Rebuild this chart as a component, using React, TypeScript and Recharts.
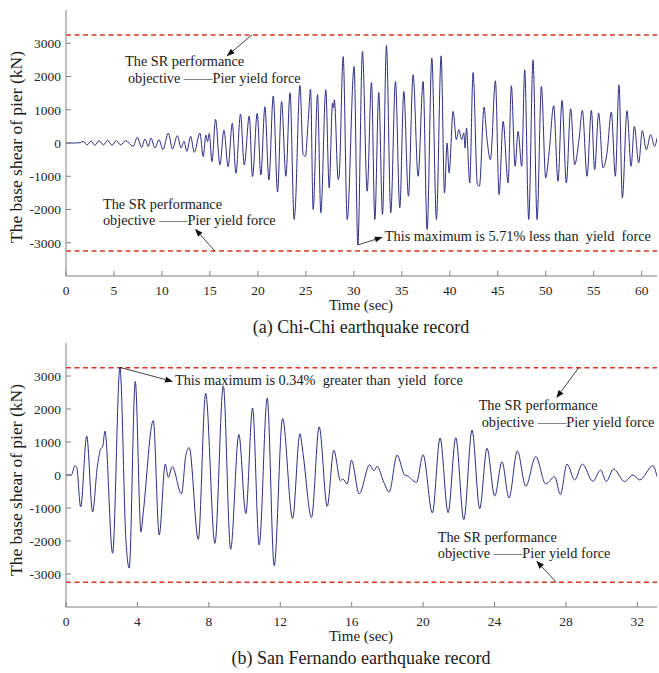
import React from "react";
import { LineChart, Line, XAxis, YAxis, ReferenceLine, ReferenceDot } from "recharts";

const FONT = '"Liberation Serif", "Times New Roman", serif';
const TRACE = "#2e2d86";
const YIELD = "#d9381e";
const FRAME = "#808080";

// yield force of the pier (kN)
const yieldForce = 3250;
const shearTicks = [-3000, -2000, -1000, 0, 1000, 2000, 3000];

// (a) Chi-Chi record: turning points
const chiChiTime = [
  0, 1.0, 1.5, 1.8, 2.2, 2.6, 3.0, 3.45, 3.9, 4.35, 4.8, 5.25, 5.7, 6.2, 7.0, 7.43, 7.88, 8.23,
  8.58, 8.85, 9.27, 9.69, 10.1, 10.66, 11.1, 11.6, 12.0, 12.3, 12.6, 12.99, 13.37, 13.96, 14.3,
  14.58, 14.75, 14.93, 15.21, 15.59, 16.04, 16.46, 16.9, 17.33, 17.71, 18.19, 18.58, 19.1, 19.44,
  19.93, 20.31, 20.73, 21.15, 21.6, 22.05, 22.47, 22.92, 23.35, 23.78, 23.88, 24.38, 24.72, 24.95,
  25.24, 25.49, 25.76, 26.22, 26.56, 27.08, 27.43, 27.78, 27.88, 27.97, 28.37, 28.47, 28.89, 29.31,
  30.03, 30.42, 30.9, 31.39, 31.84, 32.19, 32.6, 32.99, 33.4, 33.85, 34.34, 34.79, 35.21, 35.69,
  36.18, 36.7, 37.22, 37.64, 38.13, 38.61, 39.1, 39.45, 39.72, 39.93, 40.35, 40.69, 40.94, 41.25,
  41.46, 41.6, 41.74, 42.08, 42.43, 42.88, 43.09, 43.58, 43.82, 44.24, 44.76, 45.14, 45.56, 46.08,
  46.42, 46.81, 47.12, 47.5, 47.81, 48.23, 48.68, 49.1, 49.55, 50.0, 50.35, 50.83, 51.28, 51.7,
  52.15, 52.6, 53.02, 53.47, 53.82, 54.31, 54.76, 55.1, 55.52, 55.97, 56.39, 56.84, 57.26, 57.64,
  57.99, 58.47, 58.9, 59.24, 59.69, 60.07, 60.49, 60.94, 61.35, 61.6,
];
const chiChiShear = [
  0, 0, 10, 50, -60, 60, -70, 70, -60, 80, -70, 70, -60, 70, -100, 170, -130, 120,
  -100, 150, -150, 100, -200, 300, -180, 220, -150, 50, -250, 200, -280, 300, -410,
  240, 40, 290, -560, 710, -660, 390, -710, 590, -910, 870, -660, 810, -1010,
  890, -960, 1090, -1110, 1410, -1470, 1250, -1000, 1510, -2300, -2050, 1730, -350, -400,
  650, 1620, -2000, 1450, -2100, 1600, -1350, 1200, 1050, 1300, -1100, -1000, 2600, -2300,
  2300, -3065, 2750, -1450, 1820, -2300, 1520, -2150, 2930, -2100, 1850, -1950, 1550, -1600,
  2050, -1000, 1850, -2600, 2550, -2300, 2620, -1500, 0, -900, 950, 100, 400, 100,
  300, -150, 450, -1200, 2120, -1250, -1300, 1080, 300, -500, 1870, -1550, 650, -1200,
  1720, -700, 350, -700, 2200, -2300, 2500, -2300, 1700, -1050, -300, 1120, -1150, 1280,
  -1200, 1030, -650, 100, 980, -1000, 980, -800, 900, -750, -300, 930, -1000, 1750,
  -1650, 970, -700, 500, -600, 370, -200, 250, -100, 150,
];
const chiChiTicks = [0, 5, 10, 15, 20, 25, 30, 35, 40, 45, 50, 55, 60];

// (b) San Fernando record
const sanFernandoTime = [
  0, 0.3, 0.5, 0.6, 0.82, 1.16, 1.49, 1.75, 1.95, 2.05, 2.18, 2.61, 3.02, 3.36, 3.54, 3.88, 4.2,
  4.33, 4.89, 5.22, 5.56, 5.73, 5.95, 6.47, 6.72, 6.9, 7.41, 7.82, 8.34, 8.81, 9.22, 9.68, 10.07,
  10.45, 10.82, 11.27, 11.66, 12.13, 12.69, 13.1, 13.28, 13.75, 14.18, 14.63, 15.0, 15.37, 15.5,
  15.75, 15.99, 16.42, 17.01, 17.24, 17.42, 17.8, 18.1, 18.54, 18.97, 19.1, 19.63, 20.0, 20.52,
  20.95, 21.4, 21.83, 22.28, 22.74, 23.17, 23.58, 24.01, 24.42, 24.81, 25.28, 25.75, 26.31,
  26.87, 27.37, 27.69, 28.06, 28.49, 28.92, 29.51, 29.94, 30.26, 30.67, 31.29, 31.75, 32.13,
  32.87, 33.1,
];
const sanFernandoShear = [
  0, 0, 280, 230, -970, 1180, -1120, 230, 800, 850, 1330, -2370, 3261, -2020, -2820, 2830, -1720,
  -1120, 1650, -1820, 330, -70, 250, -570, 630, 830, -1950, 2480, -2070, 2700, -2250, 1230, -1170,
  2030, -2120, 2330, -2750, 1710, -1320, 1250, 630, -1290, 1460, -950, 750, -170, -120,
  -270, 450, -570, 310, 130, 260, -220, -520, 600, 0, -20, -220, 610, -1150,
  1120, -1140, 1130, -1350, 1360, -1020, 810, -640, 400, -700, 730, -340, 560,
  -270, -50, -590, 330, -150, 330, -190, 150, -190, 180, -200, 0, -150,
  280, -50,
];
const sanFernandoTicks = [0, 4, 8, 12, 16, 20, 24, 28, 32];

const perfLine1 = "The SR performance";
const perfLine2 = "objective \u2014\u2014Pier yield force";

// annotations in data units: [time, shear, text]
const chiChiNotes: [number, number, string][] = [
  [6.15, 2460, perfLine1],
  [6.46, 1950, perfLine2],
  [3.85, -1830, perfLine1],
  [3.85, -2310, perfLine2],
  [33.23, -2805, "This maximum is 5.71% less than  yield  force"],
];
const chiChiArrows: [number, number, number, number][] = [
  [19.38, 3250, 16.74, 2610],
  [15.52, -3250, 13.44, -2580],
  [30.42, -3065, 33.02, -2830],
];
const sanFernandoNotes: [number, number, string][] = [
  [6.1, 2880, "This maximum is 0.34%  greater than  yield  force"],
  [23.11, 2110, perfLine1],
  [23.28, 1610, perfLine2],
  [20.82, -1870, perfLine1],
  [20.82, -2350, perfLine2],
];
const sanFernandoArrows: [number, number, number, number][] = [
  [3.02, 3261, 6.0, 2830],
  [28.71, 3250, 27.46, 2330],
  [27.46, -3250, 26.34, -2600],
];

const chiChiData = chiChiTime.map((t, i) => ({ t, v: chiChiShear[i] }));
const sanFernandoData = sanFernandoTime.map((t, i) => ({ t, v: sanFernandoShear[i] }));

const arrowShape = (p: any) => {
  const { x1, y1, x2, y2 } = p;
  const a = Math.atan2(y2 - y1, x2 - x1);
  const len = 8;
  const w = 3;
  const bx = x2 - len * Math.cos(a);
  const by = y2 - len * Math.sin(a);
  const pts = `${x2},${y2} ${bx - w * Math.sin(a)},${by + w * Math.cos(a)} ${bx + w * Math.sin(a)},${by - w * Math.cos(a)}`;
  return (
    <g>
      <line x1={x1} y1={y1} x2={bx} y2={by} stroke="#111" strokeWidth={0.8} />
      <polygon points={pts} fill="#111" />
    </g>
  );
};

const noteShape = (text: string) => (p: any) => (
  <text
    x={p.cx}
    y={p.cy}
    dominantBaseline="central"
    fontFamily={FONT}
    fontSize={14.3}
    fill="#1a1a1a"
    style={{ whiteSpace: "pre" }}
  >
    {text}
  </text>
);

const tickStyle = { fill: "#262626", fontSize: 13.5, fontFamily: FONT };

function Panel({
  data,
  maxTime,
  ticks,
  notes,
  arrows,
  height,
}: {
  data: { t: number; v: number }[];
  maxTime: number;
  ticks: number[];
  notes: [number, number, string][];
  arrows: [number, number, number, number][];
  height: number;
}) {
  return (
    <LineChart width={659} height={height} data={data} margin={{ top: 10, right: 2, bottom: 0, left: 0 }}>
      <XAxis
        dataKey="t"
        type="number"
        domain={[0, maxTime]}
        ticks={ticks}
        allowDataOverflow
        height={44}
        tickSize={-5}
        tickMargin={14}
        tick={tickStyle}
        axisLine={{ stroke: FRAME }}
        tickLine={{ stroke: FRAME }}
      />
      <XAxis
        xAxisId="top"
        orientation="top"
        dataKey="t"
        type="number"
        domain={[0, maxTime]}
        ticks={ticks}
        allowDataOverflow
        height={0}
        tickSize={-5}
        tick={false}
        axisLine={{ stroke: FRAME }}
        tickLine={{ stroke: FRAME }}
      />
      <YAxis
        type="number"
        domain={[-4000, 4000]}
        ticks={shearTicks}
        allowDataOverflow
        width={66}
        tickSize={-5}
        tickMargin={10}
        tick={tickStyle}
        axisLine={{ stroke: FRAME }}
        tickLine={{ stroke: FRAME }}
      />
      <YAxis
        yAxisId="right"
        orientation="right"
        type="number"
        domain={[-4000, 4000]}
        ticks={shearTicks}
        allowDataOverflow
        width={0}
        tickSize={-5}
        tick={false}
        axisLine={{ stroke: FRAME }}
        tickLine={{ stroke: FRAME }}
      />
      <ReferenceLine y={yieldForce} stroke={YIELD} strokeWidth={1.5} strokeDasharray="5 3.5" />
      <ReferenceLine y={-yieldForce} stroke={YIELD} strokeWidth={1.5} strokeDasharray="5 3.5" />
      <Line
        dataKey="v"
        type="monotone"
        stroke={TRACE}
        strokeWidth={1}
        dot={false}
        isAnimationActive={false}
      />
      {arrows.map((a, i) => (
        <ReferenceLine
          key={`a${i}`}
          segment={[
            { x: a[0], y: a[1] },
            { x: a[2], y: a[3] },
          ]}
          shape={arrowShape}
        />
      ))}
      {notes.map((n, i) => (
        <ReferenceDot key={`n${i}`} x={n[0]} y={n[1]} r={0} shape={noteShape(n[2])} />
      ))}
    </LineChart>
  );
}

const textStyle: React.CSSProperties = { fontFamily: FONT, fill: "#1a1a1a" };

export default function App() {
  return (
    <div style={{ position: "absolute", left: 0, top: 0, width: 659, height: 673, background: "#fff" }}>
      <div style={{ position: "absolute", left: 0, top: 0 }}>
        <Panel data={chiChiData} maxTime={61.6} ticks={chiChiTicks} notes={chiChiNotes} arrows={chiChiArrows} height={320} />
      </div>
      <div style={{ position: "absolute", left: 0, top: 333 }}>
        <Panel
          data={sanFernandoData}
          maxTime={33.1}
          ticks={sanFernandoTicks}
          notes={sanFernandoNotes}
          arrows={sanFernandoArrows}
          height={318}
        />
      </div>
      <svg width={659} height={673} style={{ position: "absolute", left: 0, top: 0, pointerEvents: "none" }}>
        <text x={16} y={147} transform="rotate(-90 16 147)" textAnchor="middle" dominantBaseline="central" fontSize={17.5} style={textStyle}>
          The base shear of pier (kN)
        </text>
        <text x={16} y={480} transform="rotate(-90 16 480)" textAnchor="middle" dominantBaseline="central" fontSize={17.5} style={textStyle}>
          The base shear of pier (kN)
        </text>
        <text x={361} y={305} textAnchor="middle" dominantBaseline="central" fontSize={15} style={textStyle}>
          Time (sec)
        </text>
        <text x={361} y={636} textAnchor="middle" dominantBaseline="central" fontSize={15} style={textStyle}>
          Time (sec)
        </text>
        <text x={361} y={327} textAnchor="middle" dominantBaseline="central" fontSize={18} style={textStyle}>
          (a) Chi-Chi earthquake record
        </text>
        <text x={361} y={658} textAnchor="middle" dominantBaseline="central" fontSize={18} style={textStyle}>
          (b) San Fernando earthquake record
        </text>
      </svg>
    </div>
  );
}
